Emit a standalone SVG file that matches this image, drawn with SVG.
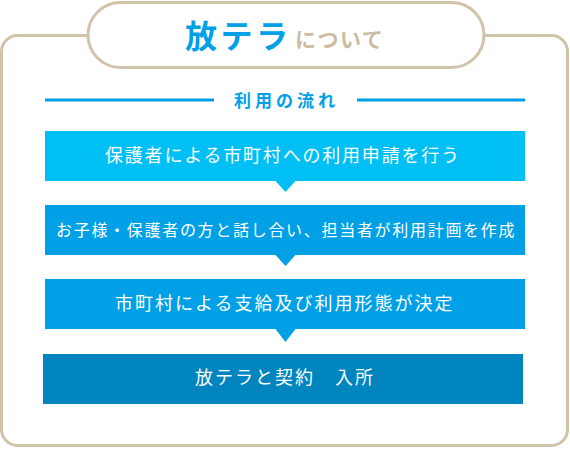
<svg xmlns="http://www.w3.org/2000/svg" width="570" height="449" viewBox="0 0 570 449">
<style>
.frame{fill:#fff;stroke:#d1c3aa;stroke-width:3}
.jp{font-family:"Noto Sans CJK JP","Noto Sans",sans-serif}
.box-text{fill:#fff;font-size:18px;letter-spacing:1.8px}
.rule{stroke:#00a0e9;stroke-width:3}
</style>
<rect class="frame" x="1.5" y="35.5" width="566" height="410" rx="16"/>
<g id="title">
<rect class="frame" x="88" y="2.5" width="396" height="65" rx="32.5"/>
<text class="jp" x="185" y="48" font-size="32" font-weight="bold" fill="#00a0e9" letter-spacing="3.5">放テラ</text>
<text class="jp" x="295" y="46.5" font-size="21" font-weight="bold" fill="#cbbb9f" letter-spacing="1.5">について</text>
</g>
<g id="heading">
<line class="rule" x1="45" y1="100" x2="214" y2="100"/>
<line class="rule" x1="357" y1="100" x2="525" y2="100"/>
<text class="jp" x="234" y="107" font-size="17" font-weight="bold" fill="#00a0e9" letter-spacing="4">利用の流れ</text>
</g>
<g id="connectors">
<polygon points="275.5,181 295.5,181 285.5,192" fill="#00bff4"/>
<polygon points="275.5,255 295.5,255 285.5,266" fill="#00a0e6"/>
<polygon points="275.5,329 295.5,329 285.5,342" fill="#00a0e6"/>
</g>
<g id="step1">
<rect x="45" y="131" width="480" height="50" fill="#00bff4"/>
<text class="jp box-text" x="105" y="162">保護者による市町村への利用申請を行う</text>
</g>
<g id="step2">
<rect x="45" y="205" width="480" height="50" fill="#00a0e6"/>
<text class="jp box-text" x="56" y="236" style="font-size:16px;letter-spacing:1.7px">お子様・保護者の方と話し合い、担当者が利用計画を作成</text>
</g>
<g id="step3">
<rect x="45" y="279" width="480" height="50" fill="#00a0e6"/>
<text class="jp box-text" x="115" y="310" style="letter-spacing:2px">市町村による支給及び利用形態が決定</text>
</g>
<g id="step4">
<rect x="43" y="354" width="480" height="50" fill="#0085bf"/>
<text class="jp box-text" x="195" y="384" style="letter-spacing:2px">放テラと契約　入所</text>
</g>
</svg>
